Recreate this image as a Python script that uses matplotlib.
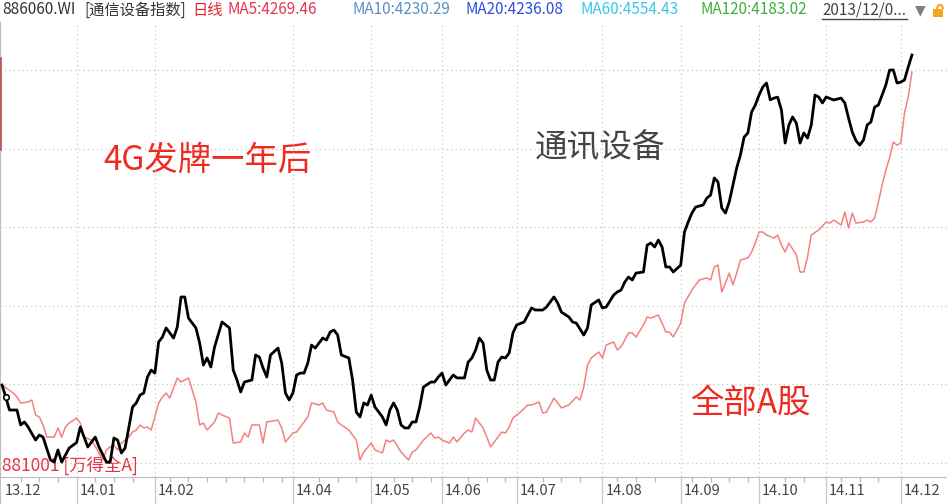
#!/usr/bin/env python3
import numpy as np
import matplotlib
matplotlib.use("Agg")
import matplotlib.pyplot as plt
from matplotlib.lines import Line2D
from matplotlib.patches import Rectangle, Arc

plt.rcParams['font.family'] = ['Noto Sans CJK SC', 'DejaVu Sans']

W, H = 947, 504

# trading-day index since 2013-12-03 -> index level (通信设备, 886060.WI)
comm_days = [0, 1, 2, 4, 5, 6, 7, 9, 10, 11, 13, 14, 15, 16, 18, 20, 21, 22, 23, 25,
             26, 28, 29, 30, 31, 32, 33, 35, 36, 37, 38, 39, 40, 41, 42, 43, 44, 45, 46, 47,
             48, 49, 50, 51, 52, 53, 54, 55, 56, 57, 59, 61, 62, 63, 64, 65, 67, 68, 69, 70,
             71, 72, 74, 75, 76, 77, 78, 79, 80, 81, 82, 83, 84, 86, 87, 88, 89, 90, 91, 93,
             94, 95, 96, 97, 98, 99, 100, 102, 103, 104, 105, 106, 107, 108, 109, 110, 111, 112, 113, 115,
             116, 117, 118, 119, 120, 121, 122, 124, 125, 126, 127, 128, 129, 130, 131, 132, 133, 134, 135, 136,
             137, 138, 140, 142, 143, 145, 146, 148, 149, 150, 152, 153, 154, 156, 157, 158, 160, 161, 162, 164,
             165, 166, 167, 168, 169, 170, 172, 173, 174, 175, 176, 177, 178, 179, 180, 182, 183, 184, 185, 186,
             188, 189, 190, 191, 192, 193, 194, 195, 196, 197, 198, 199, 200, 201, 202, 203, 204, 205, 206, 207,
             208, 209, 210, 211, 212, 213, 214, 215, 216, 217, 218, 219, 220, 221, 223, 225, 226, 227, 228, 229,
             230, 231, 232, 233, 234, 235, 236, 237, 238, 239, 240, 241, 242, 243, 244]
comm_vals = [2246, 2170, 2087, 2087, 1992, 2011, 1979, 1896, 1928, 1915, 1769, 1756, 1833, 1756, 1845, 1880, 1979, 1915, 1852, 1915,
             1852, 1756, 1756, 1909, 1896, 1814, 1845, 2106, 2132, 2182, 2195, 2297, 2341, 2322, 2520, 2551, 2609, 2577, 2545, 2615,
             2806, 2806, 2672, 2640, 2609, 2513, 2373, 2418, 2361, 2488, 2647, 2609, 2341, 2278, 2202, 2265, 2278, 2437, 2424, 2354,
             2297, 2437, 2481, 2386, 2195, 2151, 2195, 2310, 2322, 2322, 2386, 2500, 2481, 2545, 2532, 2583, 2596, 2564, 2437, 2418,
             2278, 2074, 2043, 2132, 2119, 2182, 2106, 2043, 1992, 2087, 2132, 2087, 1992, 1973, 1973, 2011, 2011, 2106, 2233, 2265,
             2265, 2297, 2322, 2246, 2278, 2310, 2291, 2291, 2392, 2418, 2469, 2545, 2513, 2340, 2278, 2278, 2392, 2424, 2418, 2450,
             2577, 2628, 2647, 2736, 2723, 2723, 2742, 2806, 2768, 2710, 2679, 2647, 2640, 2564, 2609, 2755, 2787, 2736, 2742, 2818,
             2838, 2850, 2901, 2933, 2914, 2958, 2965, 3136, 3149, 3124, 3168, 3124, 2997, 2997, 2965, 3009, 3219, 3283, 3340, 3378,
             3391, 3435, 3454, 3563, 3537, 3372, 3340, 3410, 3518, 3626, 3709, 3823, 3849, 3982, 4027, 4090, 4141, 4167, 4060, 4071,
             4077, 3995, 3785, 3900, 3951, 3912, 3785, 3849, 3817, 3900, 4090, 4078, 4040, 4078, 4059, 4071, 4040, 3944, 3855, 3800,
             3772, 3804, 3900, 3919, 4014, 4027, 4090, 4154, 4249, 4250, 4167, 4173, 4186, 4269, 4345]

# 全部A股 (881001.WI), rebased onto the same scale
alla_days = [0, 3, 4, 5, 7, 8, 9, 10, 11, 12, 14, 15, 16, 17, 18, 20, 21, 22, 24, 26,
             27, 28, 29, 30, 31, 32, 34, 35, 36, 37, 38, 39, 40, 42, 43, 44, 45, 46, 47, 48,
             50, 51, 52, 53, 54, 55, 57, 58, 59, 61, 62, 64, 65, 66, 67, 69, 70, 71, 74, 75,
             76, 78, 79, 81, 82, 83, 85, 86, 87, 89, 90, 91, 93, 95, 96, 97, 99, 100, 102, 103,
             104, 105, 107, 109, 110, 111, 113, 115, 116, 117, 118, 120, 121, 122, 124, 125, 126, 127, 129, 130,
             131, 132, 134, 135, 136, 137, 139, 141, 142, 144, 145, 146, 148, 150, 152, 154, 155, 156, 157, 158,
             160, 161, 162, 164, 165, 166, 168, 169, 170, 172, 173, 174, 176, 177, 178, 179, 180, 182, 183, 185,
             187, 189, 190, 191, 192, 193, 194, 195, 196, 197, 198, 200, 201, 202, 203, 204, 205, 207, 208, 209,
             210, 211, 213, 214, 215, 216, 217, 219, 221, 222, 223, 225, 226, 227, 228, 229, 231, 232, 233, 234,
             235, 236, 237, 238, 239, 240, 241, 242, 243, 244]
alla_vals = [2246, 2195, 2170, 2132, 2138, 2151, 2055, 2043, 1992, 1915, 1915, 1973, 1915, 1979, 2004, 2036, 2004, 1915, 1896, 1814,
             1769, 1833, 1852, 1864, 1833, 1877, 1915, 1947, 1960, 1992, 1973, 1979, 1960, 2132, 2170, 2195, 2163, 2227, 2291, 2265,
             2291, 2214, 2138, 1992, 2004, 1960, 2011, 2068, 2055, 2036, 1877, 1884, 1941, 1915, 1992, 1992, 1877, 2011, 2023, 1973,
             1884, 1941, 1947, 2011, 2043, 2132, 2119, 2132, 2087, 2074, 2011, 1992, 1960, 1896, 1769, 1820, 1877, 1833, 1814, 1896,
             1884, 1896, 1820, 1769, 1820, 1833, 1896, 1941, 1909, 1915, 1896, 1877, 1915, 1884, 1941, 1960, 1947, 2036, 1973, 1915,
             1852, 1884, 1947, 1941, 1979, 2036, 2074, 2119, 2119, 2138, 2068, 2074, 2163, 2100, 2119, 2170, 2151, 2233, 2373, 2418,
             2456, 2418, 2500, 2520, 2469, 2490, 2577, 2577, 2551, 2628, 2679, 2672, 2691, 2640, 2583, 2583, 2551, 2640, 2768, 2850,
             2914, 2927, 2914, 2997, 3009, 2838, 2895, 2958, 2882, 2958, 3041, 3054, 3092, 3149, 3219, 3219, 3200, 3181, 3200, 3136,
             3092, 3149, 3073, 2965, 2965, 3060, 3200, 3232, 3283, 3276, 3295, 3264, 3346, 3245, 3340, 3276, 3283, 3295, 3283, 3308,
             3410, 3518, 3613, 3690, 3792, 3772, 3785, 3976, 4078, 4237]

month_days = [0, 20, 41, 78, 99, 118, 138, 161, 182, 203, 221, 241]
month_labels = ['13.12', '14.01', '14.02', '14.04', '14.05', '14.06', '14.07',
                '14.08', '14.09', '14.10', '14.11', '14.12']
grid_levels = [1750, 2250, 2750, 3250, 3750, 4250]

header = [
    (2, '886060.WI', '#333333'),
    (84, '[通信设备指数]', '#333333'),
    (192, '日线', '#e8202a'),
    (227, 'MA5:4269.46', '#e8344e'),
    (352, 'MA10:4230.29', '#5a8ec8'),
    (465, 'MA20:4236.08', '#2f4fe0'),
    (580, 'MA60:4554.43', '#3cc6e6'),
    (700, 'MA120:4183.02', '#3fae3f'),
    (822, '2013/12/0...', '#444444'),
]


def fx(x):
    return x / W


def fy(y):
    return 1 - y / H


XLIM = (-0.54, 253.4)
GRID = '#c8c8c8'

fig = plt.figure(figsize=(W / 100, H / 100), dpi=100)

# main chart area
ax = fig.add_axes([0, 27 / H, 1, (477 - 22) / H])
ax.set_xlim(*XLIM)
ax.set_ylim(1661, 4555)
ax.set_xticks(month_days[1:])
ax.set_yticks(grid_levels)
ax.grid(True, linestyle=(0, (1, 2.5)), color=GRID, linewidth=0.9)
ax.tick_params(length=0, labelbottom=False, labelleft=False)
for side in ['top', 'right', 'bottom']:
    ax.spines[side].set_visible(False)
ax.spines['left'].set_color('#c0c0c0')

ax.plot(alla_days, alla_vals, color='#f4817d', linewidth=1.1, zorder=2)
ax.plot(comm_days, comm_vals, color='black', linewidth=2.0, zorder=3)
ax.plot(comm_days[1], comm_vals[1], marker='o', markersize=4, markerfacecolor='white',
        markeredgecolor='black', markeredgewidth=1.2, zorder=4)

# annotations
ax.text(fx(103), fy(160), '4G发牌一年后', transform=fig.transFigure, fontsize=24,
        color='#ee2a1e', va='center', ha='left', zorder=1)
ax.text(fx(535), fy(148), '通讯设备', transform=fig.transFigure, fontsize=23.5,
        color='#444444', va='center', ha='left', zorder=1)
ax.text(fx(690), fy(404), '全部A股', transform=fig.transFigure, fontsize=24,
        color='#ee2a1e', va='center', ha='left', zorder=1)
ax.text(fx(2), fy(466), '881001 [万得全A]', transform=fig.transFigure, fontsize=12.5,
        color='#e8333f', va='center', ha='left', zorder=1)

# date strip
ax2 = fig.add_axes([0, 0, 1, 27 / H])
ax2.set_xlim(*XLIM)
ax2.set_ylim(0, 27)
ax2.set_xticks([])
ax2.set_yticks([])
for side in ['right', 'bottom']:
    ax2.spines[side].set_visible(False)
ax2.spines['top'].set_color('#bdbdbd')
ax2.spines['left'].set_color('#c0c0c0')
ax2.vlines(month_days[1:], 0, 27, color='#cccccc', linewidth=1)
minor = [d for d in np.arange(5, 245, 5) if min(abs(d - m) for m in month_days) > 2]
ax2.vlines(minor, 22, 27, color='#bdbdbd', linewidth=1)
for d, lab in zip(month_days, month_labels):
    ax2.text(d + 0.8, 13, lab, fontsize=10.5, color='#444444', va='center', ha='left')

# header line
for x, s, c in header:
    fig.text(fx(x), fy(10), s, fontsize=11, color=c, va='center', ha='left')
fig.add_artist(Line2D([fx(822), fx(907)], [fy(19), fy(19)], color='#444444', linewidth=1))
fig.text(fx(920), fy(10), '▼', fontsize=10, color='#7f7f7f', va='center', ha='center',
         family='DejaVu Sans')
fig.add_artist(Rectangle((fx(933), fy(17)), 10 / W, 8 / H, transform=fig.transFigure,
                         facecolor='#f2a51f', edgecolor='none'))
fig.add_artist(Arc((fx(940), fy(9)), 6 / W, 8 / H, theta1=0, theta2=180,
                   transform=fig.transFigure, color='#f2a51f', linewidth=1.5))

# stray red marker on the left edge
fig.add_artist(Line2D([fx(0.7), fx(0.7)], [fy(58), fy(150)], color='#b84a4a', linewidth=1.2))

fig.savefig('out.png', dpi=100)
